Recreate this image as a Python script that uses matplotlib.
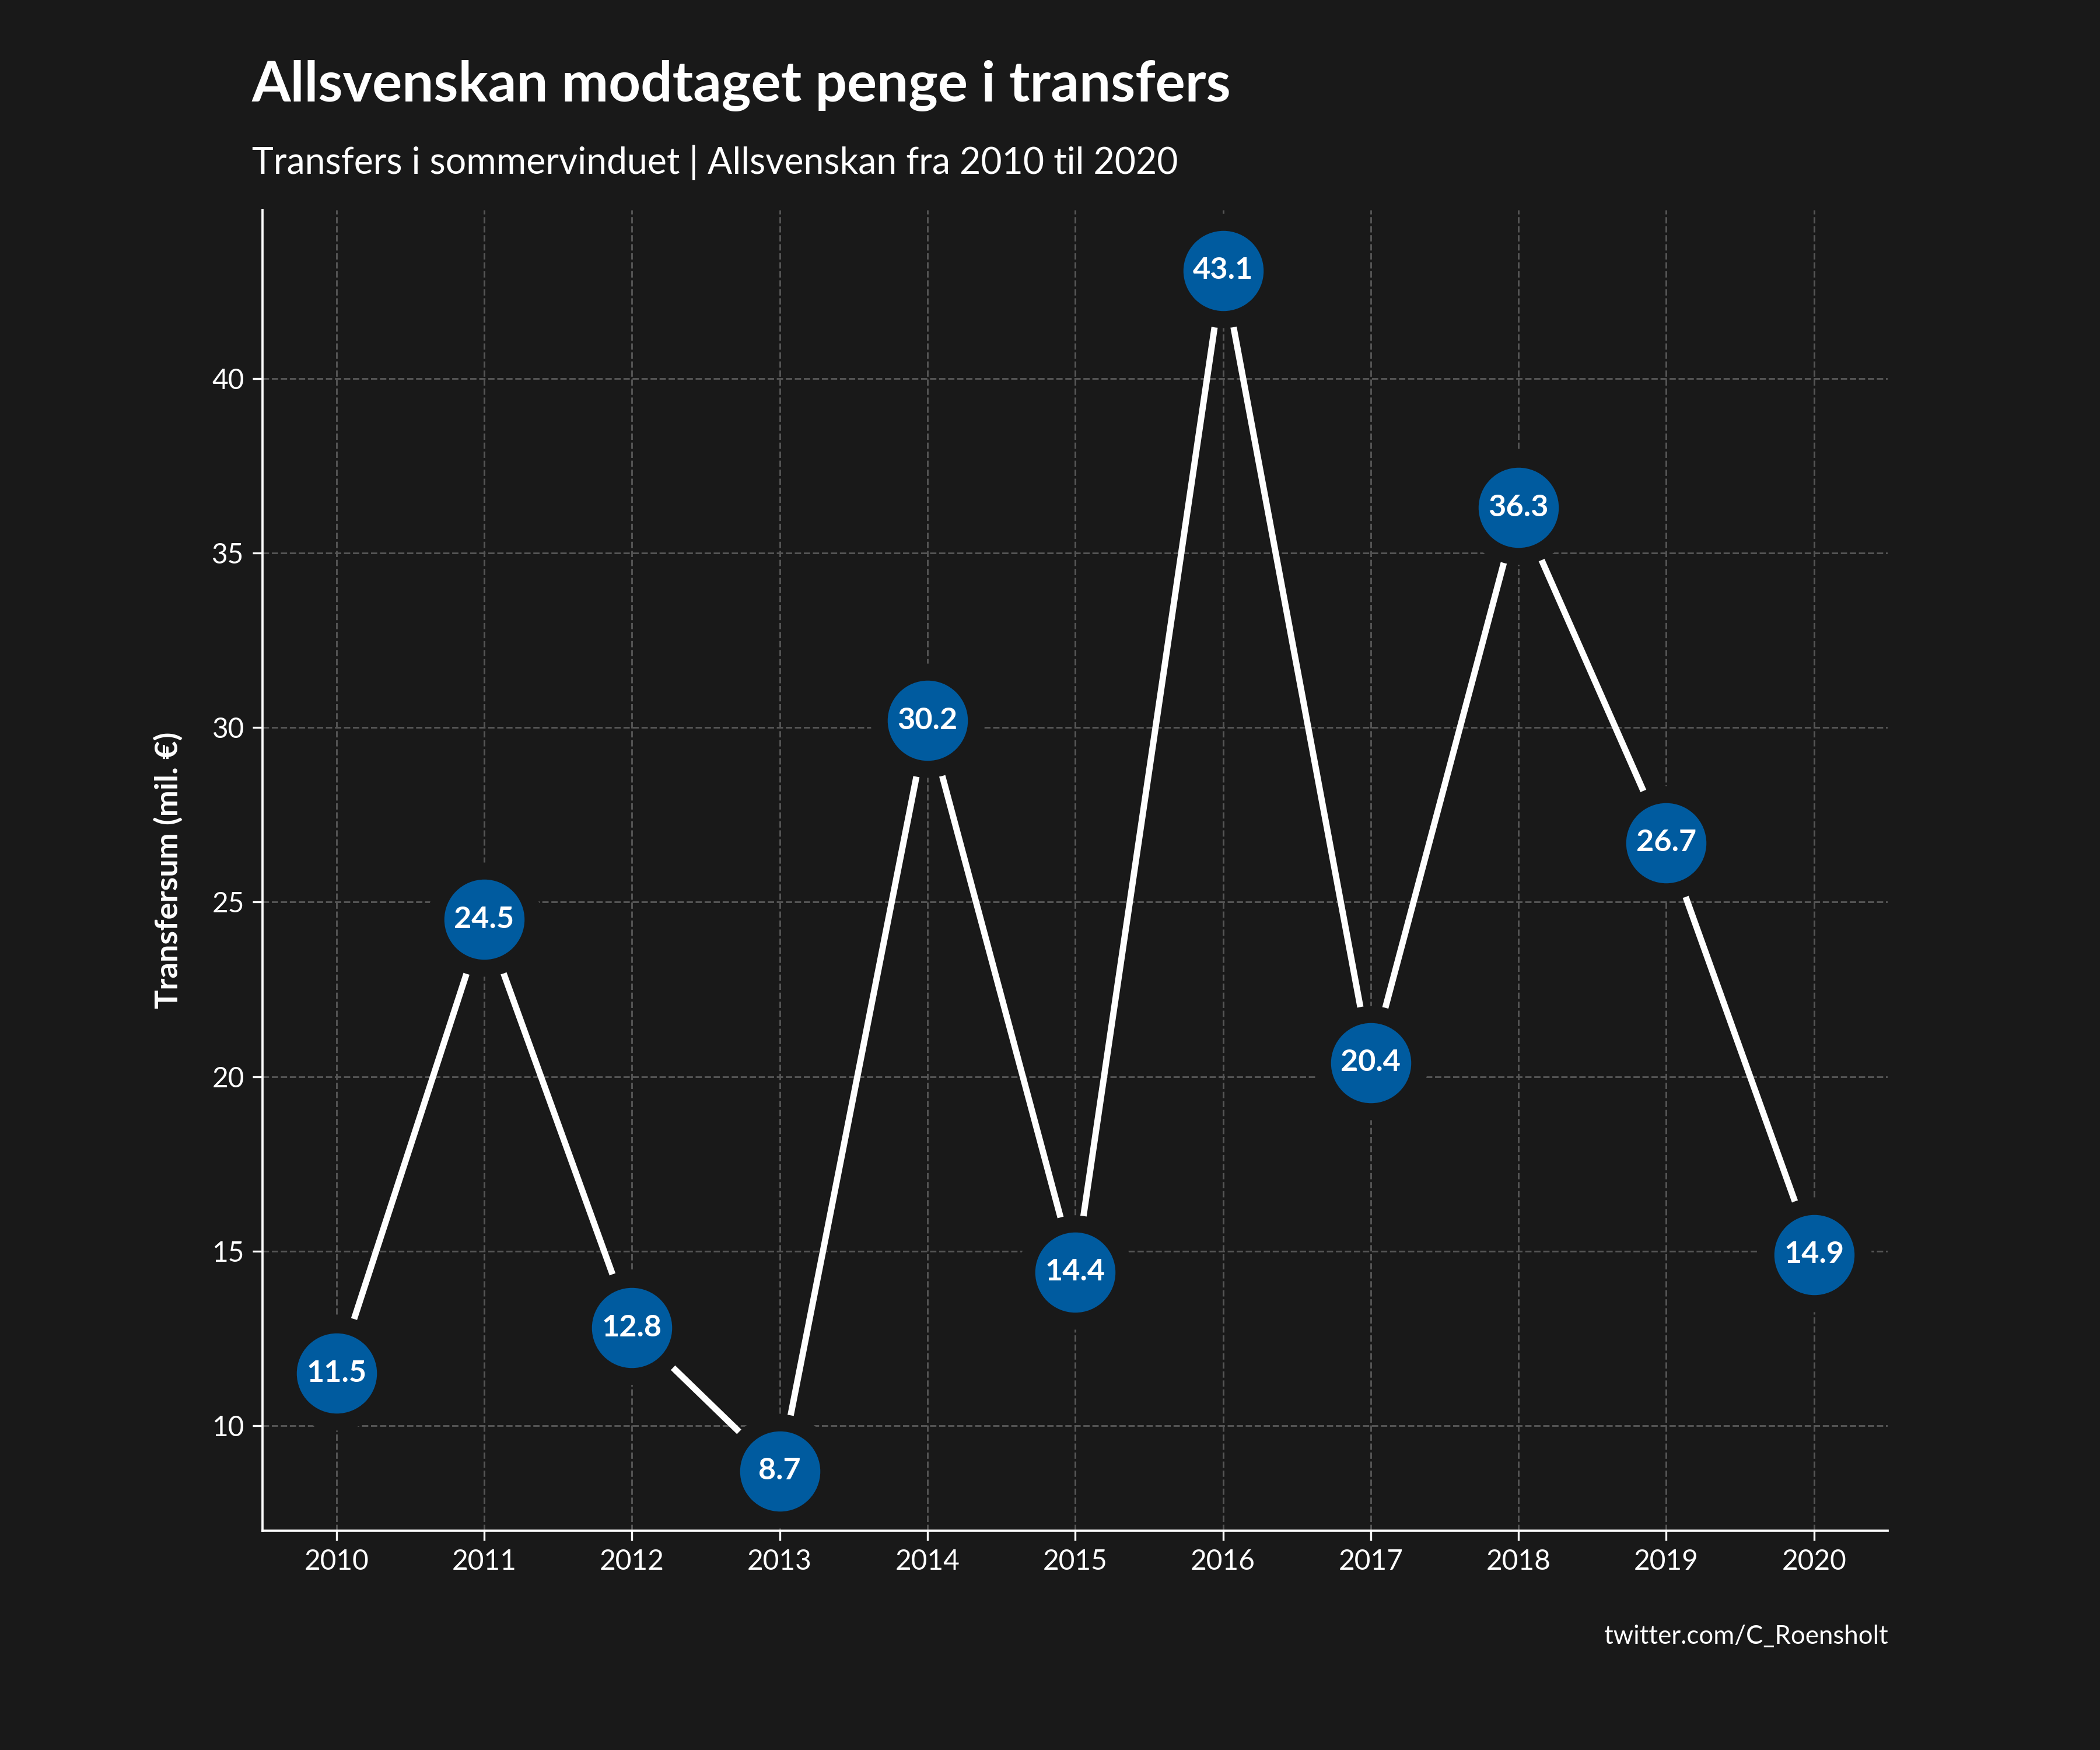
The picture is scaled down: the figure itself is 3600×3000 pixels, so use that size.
import matplotlib
matplotlib.use("Agg")
import matplotlib.pyplot as plt

years = [2010, 2011, 2012, 2013, 2014, 2015, 2016, 2017, 2018, 2019, 2020]
values = [11.5, 24.5, 12.8, 8.7, 30.2, 14.4, 43.1, 20.4, 36.3, 26.7, 14.9]
yticks = [10, 15, 20, 25, 30, 35, 40]

bg = "#191919"
blue = "#005b9f"
plt.rcParams['font.family'] = ['Lato', 'DejaVu Sans']

fig = plt.figure(figsize=(12, 10), dpi=300, facecolor=bg)
ax = fig.add_axes([0.125, 0.1255, 0.774, 0.7545], facecolor=bg)

ax.plot(years, values, color="white", lw=2.6, zorder=2)
ax.plot(years, values, ls="none", marker="o", ms=40, mfc=blue, mec=bg, mew=7, zorder=3)
for x, v in zip(years, values):
    ax.text(x, v, f"{v}", color="white", ha="center", va="center",
            fontsize=12.5, fontweight="bold", zorder=4)

ax.set_xlim(2009.5, 2020.5)
ax.set_ylim(7.0, 44.83)
ax.set_xticks(years)
ax.set_yticks(yticks)
ax.grid(True, color="#555555", ls="--", lw=0.7)
ax.set_axisbelow(True)
for s in ["top", "right"]:
    ax.spines[s].set_visible(False)
for s in ["left", "bottom"]:
    ax.spines[s].set_color("white")
    ax.spines[s].set_linewidth(0.9)
ax.tick_params(colors="white", labelsize=11.5, length=4)
ax.set_ylabel("Transfersum (mil. €)", color="white", fontsize=13, fontweight="bold", labelpad=12)

fig.text(0.12, 0.951, "Allsvenskan modtaget penge i transfers", color="white",
         fontsize=23, fontweight="bold", va="center")
fig.text(0.12, 0.907, "Transfers i sommervinduet | Allsvenskan fra 2010 til 2020", color="white",
         fontsize=15, va="center")
fig.text(0.899, 0.065, "twitter.com/C_Roensholt", color="white", fontsize=10.5,
         ha="right", va="center")

fig.savefig("out.png", facecolor=bg)
